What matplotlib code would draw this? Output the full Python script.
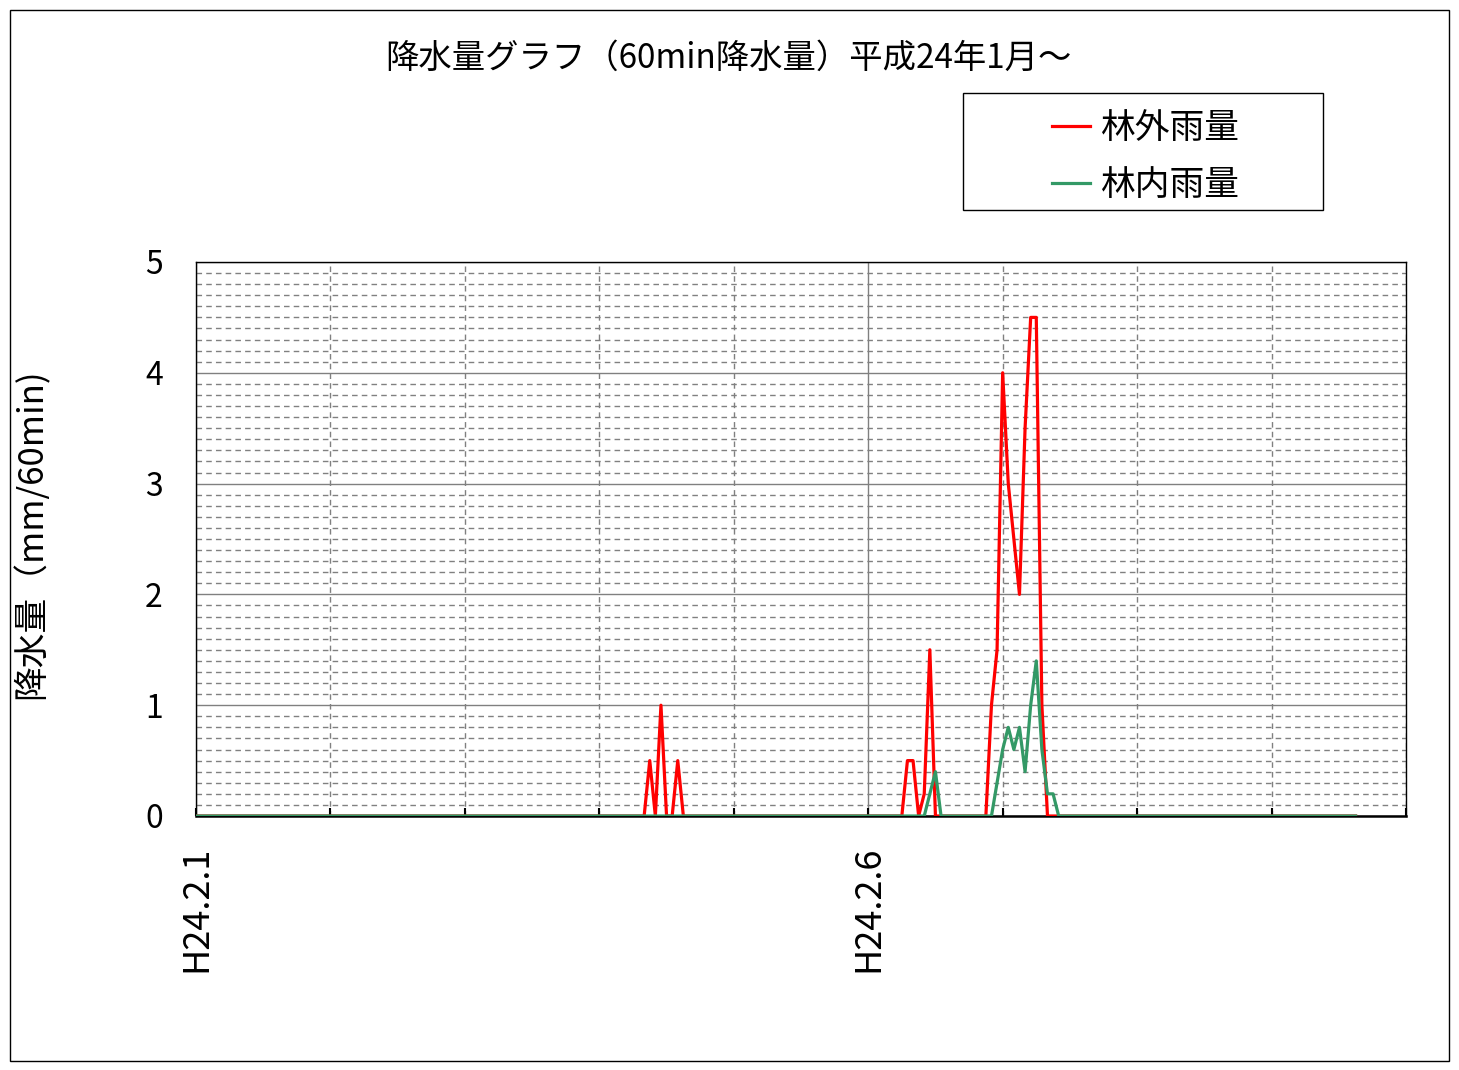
import numpy as np
import matplotlib
matplotlib.use("Agg")
import matplotlib.pyplot as plt
from matplotlib.ticker import MultipleLocator, FixedLocator
from matplotlib.patches import Rectangle

plt.rcParams['font.family'] = ['Noto Sans CJK JP', 'DejaVu Sans']

# 1時間ごとの降水量 (mm/60min)、H24.2.1 0時から 1行 = 1日
rain_outside = [
    0, 0, 0, 0, 0, 0, 0, 0, 0, 0, 0, 0, 0, 0, 0, 0, 0, 0, 0, 0, 0, 0, 0, 0,
    0, 0, 0, 0, 0, 0, 0, 0, 0, 0, 0, 0, 0, 0, 0, 0, 0, 0, 0, 0, 0, 0, 0, 0,
    0, 0, 0, 0, 0, 0, 0, 0, 0, 0, 0, 0, 0, 0, 0, 0, 0, 0, 0, 0, 0, 0, 0, 0,
    0, 0, 0, 0, 0, 0, 0, 0, 0, 0.5, 0, 1.0, 0, 0, 0.5, 0, 0, 0, 0, 0, 0, 0, 0, 0,
    0, 0, 0, 0, 0, 0, 0, 0, 0, 0, 0, 0, 0, 0, 0, 0, 0, 0, 0, 0, 0, 0, 0, 0,
    0, 0, 0, 0, 0, 0, 0, 0.5, 0.5, 0, 0.2, 1.5, 0, 0, 0, 0, 0, 0, 0, 0, 0, 0, 1.0, 1.5,
    4.0, 3.0, 2.5, 2.0, 3.5, 4.5, 4.5, 1.0, 0, 0, 0, 0, 0, 0, 0, 0, 0, 0, 0, 0, 0, 0, 0, 0,
    0, 0, 0, 0, 0, 0, 0, 0, 0, 0, 0, 0, 0, 0, 0, 0, 0, 0, 0, 0, 0, 0, 0, 0,
    0, 0, 0, 0, 0, 0, 0, 0, 0, 0, 0, 0, 0, 0, 0, 0,
]
rain_inside = [
    0, 0, 0, 0, 0, 0, 0, 0, 0, 0, 0, 0, 0, 0, 0, 0, 0, 0, 0, 0, 0, 0, 0, 0,
    0, 0, 0, 0, 0, 0, 0, 0, 0, 0, 0, 0, 0, 0, 0, 0, 0, 0, 0, 0, 0, 0, 0, 0,
    0, 0, 0, 0, 0, 0, 0, 0, 0, 0, 0, 0, 0, 0, 0, 0, 0, 0, 0, 0, 0, 0, 0, 0,
    0, 0, 0, 0, 0, 0, 0, 0, 0, 0, 0, 0, 0, 0, 0, 0, 0, 0, 0, 0, 0, 0, 0, 0,
    0, 0, 0, 0, 0, 0, 0, 0, 0, 0, 0, 0, 0, 0, 0, 0, 0, 0, 0, 0, 0, 0, 0, 0,
    0, 0, 0, 0, 0, 0, 0, 0, 0, 0, 0, 0.2, 0.4, 0, 0, 0, 0, 0, 0, 0, 0, 0, 0, 0.3,
    0.6, 0.8, 0.6, 0.8, 0.4, 1.0, 1.4, 0.6, 0.2, 0.2, 0, 0, 0, 0, 0, 0, 0, 0, 0, 0, 0, 0, 0, 0,
    0, 0, 0, 0, 0, 0, 0, 0, 0, 0, 0, 0, 0, 0, 0, 0, 0, 0, 0, 0, 0, 0, 0, 0,
    0, 0, 0, 0, 0, 0, 0, 0, 0, 0, 0, 0, 0, 0, 0, 0,
]
tick_days = [0, 5]
tick_labels = ['H24.2.1', 'H24.2.6']

days = np.arange(len(rain_outside)) / 24.0

fig = plt.figure(figsize=(14.59, 10.70), dpi=100)
fig.patches.append(Rectangle((10 / 1459, 9 / 1070), 1439 / 1459, 1051 / 1070,
                             transform=fig.transFigure, fill=False,
                             edgecolor='black', lw=1))

ax = fig.add_axes([196 / 1459, 254 / 1070, 1210 / 1459, 554 / 1070])

ax.plot(days, rain_outside, color='#ff0000', lw=2.3, label='林外雨量', zorder=3)
ax.plot(days, rain_inside, color='#339966', lw=2.3, label='林内雨量', zorder=4)

ax.set_xlim(0, 9)
ax.set_ylim(0, 5)
ax.xaxis.set_major_locator(FixedLocator(tick_days))
ax.xaxis.set_minor_locator(MultipleLocator(1))
ax.set_xticklabels(tick_labels, rotation=90, fontsize=26)
ax.yaxis.set_major_locator(MultipleLocator(1))
ax.yaxis.set_minor_locator(MultipleLocator(0.1))

ax.tick_params(axis='x', which='both', direction='in', length=6, width=1.5, pad=21)
ax.tick_params(axis='y', which='both', length=0, pad=24, labelsize=23)

ax.grid(which='major', color='#808080', lw=1.0, ls='-', zorder=0)
ax.grid(which='minor', color='#808080', lw=1.0, ls=(0, (4, 3)), zorder=0)
ax.set_axisbelow(True)
for s in ax.spines.values():
    s.set_color('black')
    s.set_linewidth(1.0)
ax.spines['bottom'].set_linewidth(1.8)

ax.set_ylabel('降水量（mm/60min)', fontsize=25)
ax.yaxis.set_label_coords((50 - 196) / 1210, (816 - 534) / 554)

fig.text(728 / 1459, 1 - 58 / 1070, '降水量グラフ（60min降水量）平成24年1月～',
         ha='center', va='center', fontsize=24)

# 凡例の枠
fig.patches.append(Rectangle((963 / 1459, 1 - 210 / 1070), 360 / 1459, 117 / 1070,
                             transform=fig.transFigure, fill=False,
                             edgecolor='black', lw=1))
fig.legend(loc='center', bbox_to_anchor=(1146 / 1459, 1 - 157 / 1070),
           frameon=False, fontsize=25, handlelength=1.1, handletextpad=0.3,
           labelspacing=0.63)

fig.savefig('out.png', dpi=100)
